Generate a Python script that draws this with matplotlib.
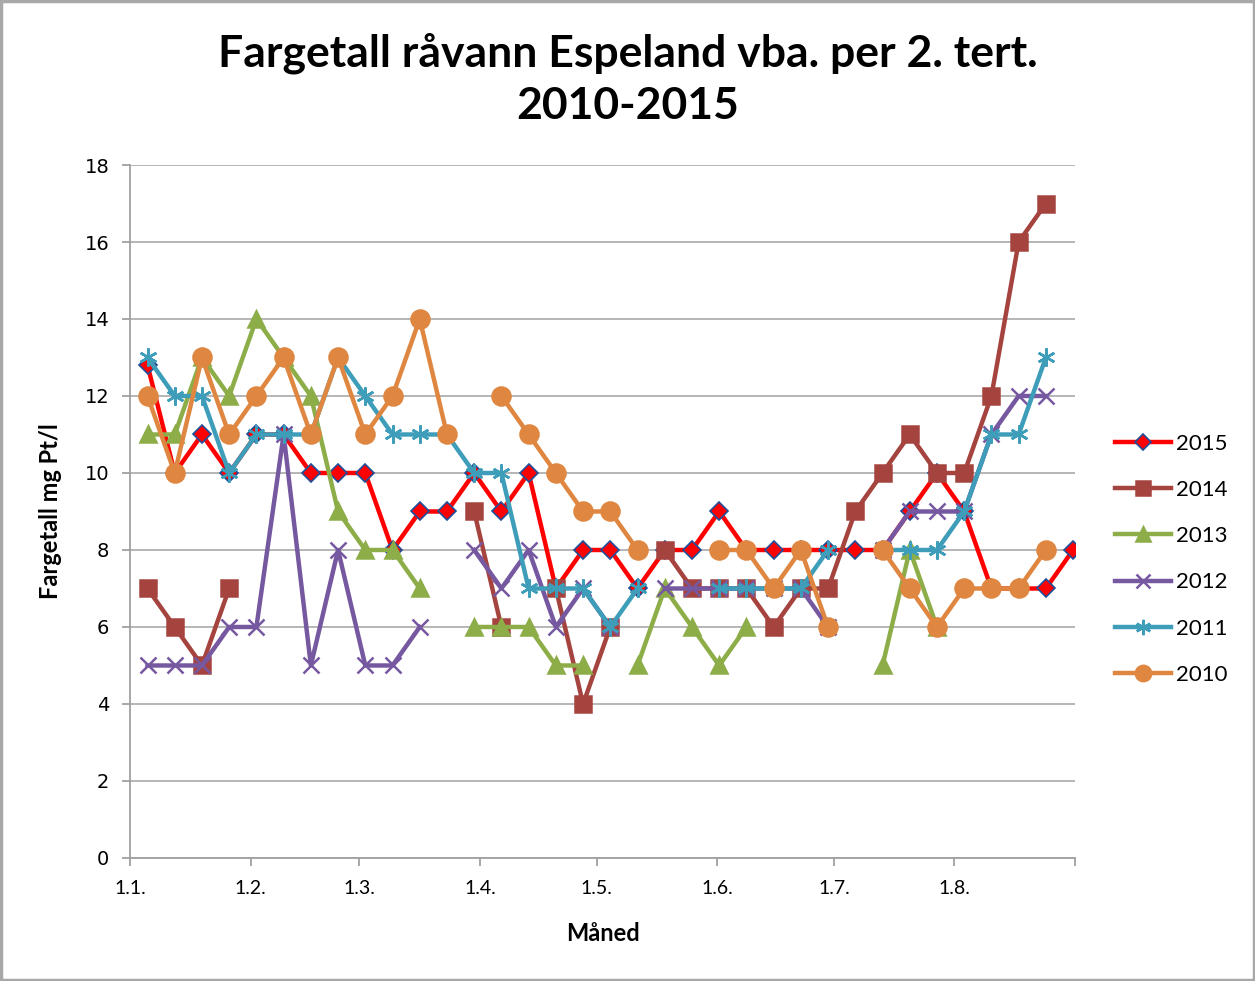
import numpy as np
import pandas as pd
import matplotlib
matplotlib.use("Agg")
import matplotlib.pyplot as plt

nan = np.nan

# ukentlige prøver, 35 uker fra 5. januar
datoer = pd.date_range("2015-01-05", periods=35, freq="7D") + pd.Timedelta(hours=12)

v2015 = [12.8, 10, 11, 10, 11, 11, 10, 10, 10, 8, 9, 9, 10, 9, 10, 7, 8, 8, 7, 8, 8, 9,
         8, 8, 8, 8, 8, 8, 9, 10, 9, 7, 7, 7, 8]
v2014 = [7, 6, 5, 7, nan, nan, nan, nan, nan, nan, nan, nan, 9, 6, nan, 7, 4, 6, nan, 8, 7,
         7, 7, 6, 7, 7, 9, 10, 11, 10, 10, 12, 16, 17, nan]
v2013 = [11, 11, 13, 12, 14, 13, 12, 9, 8, 8, 7, nan, 6, 6, 6, 5, 5, nan, 5, 7, 6, 5, 6,
         nan, nan, nan, nan, 5, 8, 6, nan, nan, nan, nan, nan]
v2012 = [5, 5, 5, 6, 6, 11, 5, 8, 5, 5, 6, nan, 8, 7, 8, 6, 7, 6, nan, 7, 7, 7, 7, 7, 7,
         6, nan, 8, 9, 9, 9, 11, 12, 12, nan]
v2011 = [13, 12, 12, 10, 11, 11, 11, 13, 12, 11, 11, 11, 10, 10, 7, 7, 7, 6, 7, nan, nan,
         7, 7, 7, 7, 8, nan, 8, 8, 8, 9, 11, 11, 13, nan]
v2010 = [12, 10, 13, 11, 12, 13, 11, 13, 11, 12, 14, 11, nan, 12, 11, 10, 9, 9, 8, nan,
         nan, 8, 8, 7, 8, 6, nan, 8, 7, 6, 7, 7, 7, 8, nan]

maaneder = ["1.1.", "1.2.", "1.3.", "1.4.", "1.5.", "1.6.", "1.7.", "1.8.", ""]

serier = [
    ("2015", v2015, "#FF0000", "D", 9, "#1F4E9A"),
    ("2014", v2014, "#A5433F", "s", 12, "#A5433F"),
    ("2013", v2013, "#8CAD48", "^", 12, "#8CAD48"),
    ("2012", v2012, "#7658A0", "x", 12, "#7658A0"),
    ("2011", v2011, "#3E9DB9", (6, 2, 0), 13, "#3E9DB9"),
    ("2010", v2010, "#DF8640", "o", 13, "#DF8640"),
]

fig = plt.figure(figsize=(12.55, 9.81), dpi=100)
ax = fig.add_axes([0.1036, 0.1254, 0.7530, 0.7064])

for navn, v, farge, mk, ms, kant in serier:
    ax.plot(datoer, v, color=farge, lw=3.2, marker=mk, markersize=ms,
            markerfacecolor=farge, markeredgecolor=kant,
            markeredgewidth=1.2 if mk == "D" else 1.8, label=navn)

ax.set_ylim(0, 18)
ax.set_yticks(np.arange(0, 19, 2))
ax.set_xlim(pd.Timestamp("2015-01-01"), pd.Timestamp("2015-09-01"))
ax.set_xticks(pd.date_range("2015-01-01", periods=9, freq="MS"))
ax.set_xticklabels(maaneder)

ax.grid(axis="y", color="#B0B0B0", lw=1.3)
ax.set_axisbelow(True)
for s in ["top", "right"]:
    ax.spines[s].set_visible(False)
for s in ["left", "bottom"]:
    ax.spines[s].set_color("#A0A0A0")
    ax.spines[s].set_linewidth(1.3)
ax.tick_params(axis="both", direction="out", length=6, color="#A0A0A0", width=1.3)
ax.tick_params(axis="y", labelsize=14, pad=9)
ax.tick_params(axis="x", labelsize=14, pad=10)
for t in ax.get_xticklabels():
    t.set_family("Lato")

ax.set_xlabel("Måned", fontsize=17, fontweight="bold", family="Lato", labelpad=18)
ax.set_ylabel("Fargetall mg Pt/l", fontsize=17, fontweight="bold", family="Lato", labelpad=16)

fig.text(0.5, 0.919, "Fargetall råvann Espeland vba. per 2. tert.\n2010-2015",
         ha="center", va="center", fontsize=32, fontweight="bold", family="Lato",
         linespacing=1.36)

ax.legend(loc="center left", bbox_to_anchor=(1.033, 0.431), frameon=False,
          prop={"family": "Lato", "size": 16}, handlelength=2.5, markerscale=0.85,
          labelspacing=1.18, handletextpad=0.25, borderaxespad=0)

fig.patches.append(plt.Rectangle((0.001, 0.001), 0.998, 0.998, transform=fig.transFigure,
                                 fill=False, edgecolor="#A8A8A8", lw=2.5))

fig.savefig("out.png", dpi=100)
